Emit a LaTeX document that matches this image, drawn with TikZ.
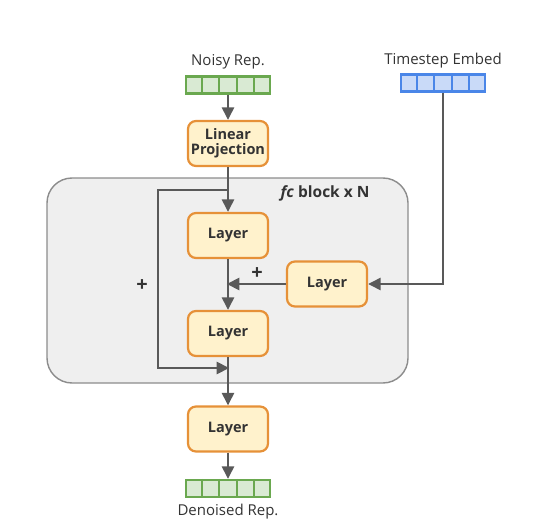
\documentclass[tikz,border=0pt]{standalone}
\usepackage{fontspec}
\setmainfont{Open Sans}
\usetikzlibrary{arrows.meta,calc}
\definecolor{greenfill}{HTML}{D9EAD3}
\definecolor{greenline}{HTML}{6AA84F}
\definecolor{bluefill}{HTML}{C9DAF8}
\definecolor{blueline}{HTML}{4A86E8}
\definecolor{boxfill}{HTML}{FFF2CC}
\definecolor{boxline}{HTML}{E69138}
\definecolor{blockfill}{HTML}{EFEFEF}
\definecolor{blockline}{HTML}{8C8C8C}
\definecolor{arrowcol}{HTML}{595959}
\definecolor{textcol}{HTML}{333333}
\tikzset{
  layerbox/.style={draw=boxline, fill=boxfill, line width=2.2pt, rounded corners=8pt,
    minimum width=80pt, minimum height=45pt, inner sep=0pt, align=center,
    font=\fontsize{14.5}{16}\selectfont\bfseries, text=textcol},
  vecbox/.style={line width=2.2pt, minimum width=84pt, minimum height=17pt, inner sep=0pt},
  flow/.style={draw=arrowcol, line width=2.5pt, -{Triangle[length=12.5pt,width=12pt]}},
  lbl/.style={font=\fontsize{15}{17}\selectfont, text=textcol},
  plus/.style={font=\fontsize{20}{20}\selectfont\bfseries, text=textcol}
}
\begin{document}
\begin{tikzpicture}[x=1pt,y=-1pt]
\useasboundingbox (0,0) rectangle (554,532);
% block background
\node[draw=blockline, fill=blockfill, line width=1.4pt, rounded corners=25pt,
  minimum width=361pt, minimum height=205pt, inner sep=0pt] (block) at (227.5,280.5) {};
\node[lbl, font=\fontsize{15.5}{17}\selectfont\bfseries, anchor=east] (blocklbl) at (373,193) {\textit{fc} block x N};

% input vector
\node[lbl] (noisylbl) at (228,62) {Noisy Rep.};
\node[vecbox, draw=greenline, fill=greenfill] (vin) at (228,85) {};
\foreach \i in {1,...,4}
  \draw[greenline, line width=2.2pt] ($(vin.north west)!\i/5!(vin.north east)$) -- ($(vin.south west)!\i/5!(vin.south east)$);

% timestep vector
\node[lbl] (tslbl) at (443,61) {Timestep Embed};
\node[vecbox, draw=blueline, fill=bluefill] (vt) at (443,83) {};
\foreach \i in {1,...,4}
  \draw[blueline, line width=2.2pt] ($(vt.north west)!\i/5!(vt.north east)$) -- ($(vt.south west)!\i/5!(vt.south east)$);

% output vector
\node[vecbox, draw=greenline, fill=greenfill] (vout) at (228,488.5) {};
\foreach \i in {1,...,4}
  \draw[greenline, line width=2.2pt] ($(vout.north west)!\i/5!(vout.north east)$) -- ($(vout.south west)!\i/5!(vout.south east)$);
\node[lbl] (denlbl) at (228,512) {Denoised Rep.};

% boxes
\node[layerbox] (lin) at (228,143.5) {Linear\\[-1pt]Projection};
\node[layerbox] (l1) at (228,235.5) {Layer};
\node[layerbox] (ls) at (327,284) {Layer};
\node[layerbox] (l2) at (228,333.5) {Layer};
\node[layerbox] (l3) at (228,429) {Layer};

% helper coordinates
\coordinate (split) at (228,190);
\coordinate (skiptop) at (158,190);
\coordinate (skipbot) at (158,368);
\coordinate (join) at (228,368);
\coordinate (merge) at (228,284);

% connectors
\draw[flow] (vin.south) -- (lin.north);
\draw[flow] (lin.south) -- (l1.north);
\draw[flow] (l1.south) -- (l2.north);
\draw[flow] (split) -- (skiptop) -- (skipbot) -- ([xshift=1.2pt]join);
\draw[flow] (ls.west) -- ([xshift=-1.2pt]merge);
\draw[flow] (vt.south) |- (ls.east);
\draw[flow] (l2.south) -- (l3.north);
\draw[flow] (l3.south) -- (vout.north);

% plus signs
\node[plus] (plusL) at (142,286) {+};
\node[plus] (plusR) at (257,274) {+};
\end{tikzpicture}
\end{document}
